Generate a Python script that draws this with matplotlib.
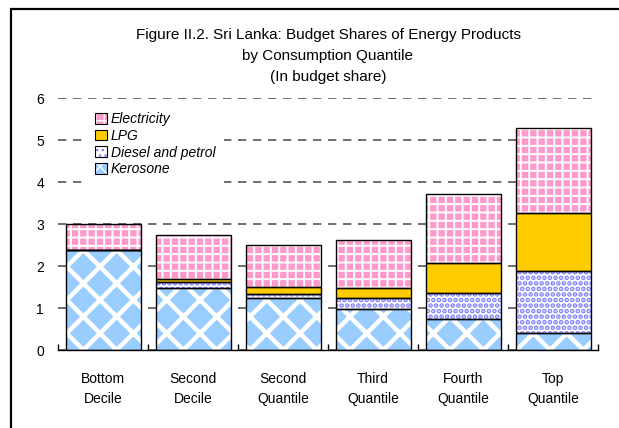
import matplotlib
matplotlib.use('Agg')
import matplotlib.pyplot as plt
import numpy as np
from matplotlib.patches import Patch, Rectangle
from matplotlib.legend_handler import HandlerTuple

plt.rcParams['font.family'] = ['Liberation Sans', 'DejaVu Sans']

categories = ["Bottom\nDecile", "Second\nDecile", "Second\nQuantile",
              "Third\nQuantile", "Fourth\nQuantile", "Top\nQuantile"]
kerosene = [2.38, 1.48, 1.25, 0.97, 0.74, 0.40]
diesel_petrol = [0.0, 0.14, 0.08, 0.26, 0.62, 1.49]
lpg = [0.0, 0.08, 0.16, 0.25, 0.70, 1.38]
electricity = [0.62, 1.05, 1.00, 1.14, 1.65, 2.02]
series_names = ["Kerosone", "Diesel and petrol", "LPG", "Electricity"]
yticks = [0, 1, 2, 3, 4, 5, 6]
title = ("Figure II.2. Sri Lanka: Budget Shares of Energy Products\n"
         "by Consumption Quantile\n(In budget share)")

# (facecolor, hatchcolor, hatch, hatch linewidth)
styles = [
    ('#99CCFF', 'white', 'x', 3.2),
    ('white', '#7F7FFF', '...', 2.4),
    ('#FFCC00', '#FFCC00', None, 1.0),
    ('#FF99CC', 'white', '++', 1.4),
]

W, H = 619, 428
fig = plt.figure(figsize=(W / 100, H / 100), dpi=100)
ax = fig.add_axes([58 / W, 78 / H, 540 / W, 252 / H])

x = np.arange(len(categories))
width = 75 / 90
bottom = np.zeros(len(categories))
handles = []
for name, vals, (fc, hc, hatch, hlw) in zip(series_names,
                                             [kerosene, diesel_petrol, lpg, electricity],
                                             styles):
    vals = np.array(vals)
    with plt.rc_context({'hatch.linewidth': hlw}):
        ax.bar(x, vals, width, bottom=bottom, facecolor=fc, edgecolor=hc,
               hatch=hatch, linewidth=0, zorder=2)
        h1 = Patch(facecolor=fc, edgecolor=hc, hatch=hatch, linewidth=0)
    ax.bar(x, vals, width, bottom=bottom, fill=False, edgecolor='black',
           linewidth=1.0, zorder=3)
    h2 = Patch(fill=False, edgecolor='black', linewidth=0.8)
    handles.append((h1, h2))
    bottom += vals

ax.set_xlim(-0.5, len(categories) - 0.5)
ax.set_ylim(0, 6)
ax.set_yticks(yticks)
ax.set_yticklabels([str(v) for v in yticks], fontsize=10)
ax.tick_params(axis='y', length=0, pad=10)

ax.set_xticks(np.arange(-0.5, len(categories), 1))
ax.set_xticklabels([])
ax.tick_params(axis='x', which='major', direction='in', length=4, width=1)
ax.set_xticks(x, minor=True)
ax.set_xticklabels(categories, minor=True, fontsize=10, linespacing=1.5)
ax.tick_params(axis='x', which='minor', length=0, pad=16)

for s in ['left', 'right', 'top']:
    ax.spines[s].set_visible(False)
ax.spines['bottom'].set_linewidth(1.0)
ax.spines['bottom'].set_zorder(4)

ax.set_axisbelow(True)
ax.yaxis.grid(True, linestyle=(0, (5, 4)), color='#555555', linewidth=1.2)

leg = ax.legend(handles[::-1], series_names[::-1],
                handler_map={tuple: HandlerTuple(ndivide=1, pad=0)},
                loc='upper left', bbox_to_anchor=(0.041, 1.005),
                prop={'style': 'italic', 'size': 10},
                handlelength=0.8, handleheight=0.8, handletextpad=0.3,
                labelspacing=0.2, borderpad=0.6, frameon=True,
                fancybox=False, edgecolor='none', facecolor='white', framealpha=1)
leg.set_zorder(5)

fig.text(328 / W, 1 - 56 / H, title, ha='center', va='center',
         fontsize=11, linespacing=1.65)

fig.add_artist(Rectangle((11 / W, -0.1), 1.2, (H - 9) / H + 0.1,
                         transform=fig.transFigure, fill=False,
                         edgecolor='black', linewidth=1.6))

fig.savefig('out.png', dpi=100)
